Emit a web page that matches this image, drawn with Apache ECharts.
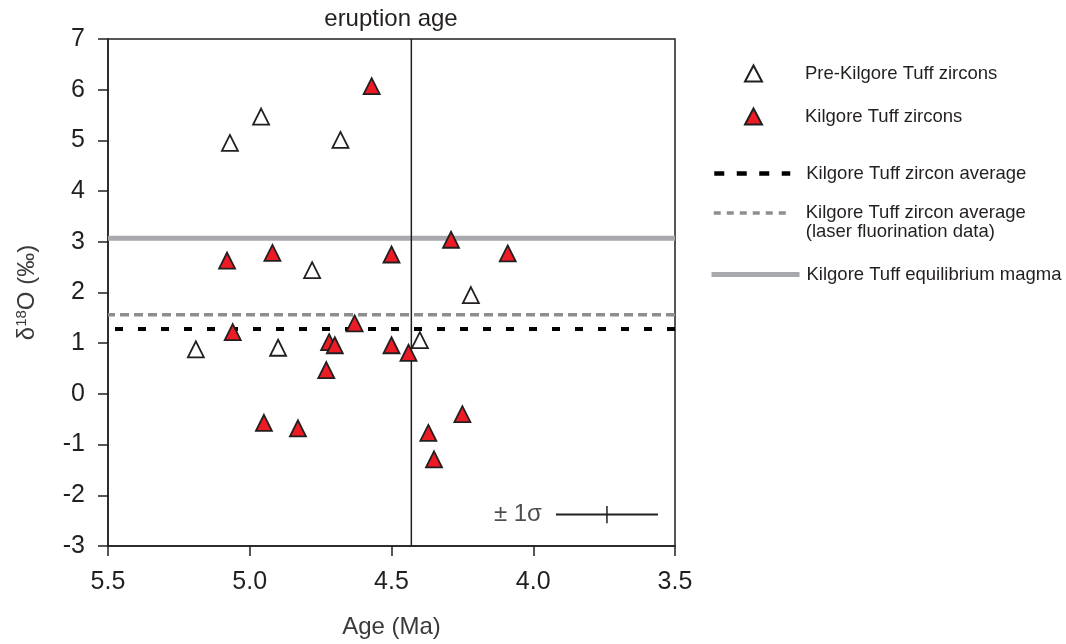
<!DOCTYPE html>
<html>
<head>
<meta charset="utf-8">
<script src="https://cdn.jsdelivr.net/npm/echarts@6/dist/echarts.min.js"></script>
<style>
  html, body { margin: 0; padding: 0; background: #fff; }
  #chart { width: 1066px; height: 644px; }
</style>
</head>
<body>
<div id="chart"></div>
<script>
// Zircon oxygen isotopes vs. age
const preAge   = [5.07, 4.96, 4.68, 4.78, 5.19, 4.90, 4.22, 4.40];
const preD18O  = [4.95, 5.47, 5.01, 2.44, 0.88, 0.91, 1.95, 1.06];

const kilAge   = [4.57, 5.08, 4.92, 4.50, 4.63, 5.06, 4.72, 4.70, 4.50, 4.73, 4.95, 4.83, 4.29, 4.09, 4.44, 4.25, 4.37, 4.35];
const kilD18O  = [6.07, 2.63, 2.78, 2.75, 1.39, 1.22, 1.02, 0.96, 0.96, 0.47, -0.57, -0.68, 3.04, 2.77, 0.81, -0.40, -0.77, -1.29];

// Reference levels (δ18O, ‰) and eruption age (Ma)
const zirconAvg = 1.28;
const laserAvg = 1.56;
const equilibriumMagma = 3.07;
const eruptionAge = 4.43;

// Typical 1σ uncertainty (age, δ18O)
const sigmaCenter = [3.74, -2.38];
const sigmaAge = 0.18;
const sigmaD18O = 0.17;

// Axis ranges and ticks
const ageRange = [3.5, 5.5];
const ageTicks = ['5.5', '5.0', '4.5', '4.0', '3.5'];
const d18ORange = [-3, 7];

const seriesNames = [
  'Pre-Kilgore Tuff zircons',
  'Kilgore Tuff zircons',
  'Kilgore Tuff zircon average',
  'Kilgore Tuff zircon average\n(laser fluorination data)',
  'Kilgore Tuff equilibrium magma'
];

const INK = '#231f20';
const FONT = '"Liberation Sans", Arial, Helvetica, sans-serif';

const pairs = (xs, ys) => xs.map((x, i) => [x, ys[i]]);
const hline = v => [[ageRange[0], v], [ageRange[1], v]];

const chart = echarts.init(document.getElementById('chart'), null, { renderer: 'canvas' });

const legendText = { fontFamily: FONT, fontSize: 18.5, color: INK, lineHeight: 19 };
function legendFor(name, left, top, itemWidth, textPad, extra) {
  return Object.assign({
    data: [name],
    orient: 'vertical',
    selectedMode: false,
    padding: 0,
    itemGap: 0,
    left: left,
    top: top,
    itemWidth: itemWidth,
    itemHeight: 16,
    textStyle: Object.assign({}, legendText, { padding: textPad })
  }, extra || {});
}

chart.setOption({
  animation: false,
  backgroundColor: '#fff',
  textStyle: { fontFamily: FONT },
  grid: {
    left: 108, right: 391, top: 39, bottom: 93,
    show: true, borderColor: INK, borderWidth: 1.5, backgroundColor: 'transparent'
  },
  graphic: [{
    type: 'text', x: 391, y: 19,
    style: {
      text: 'eruption age', fill: INK, font: '24px ' + FONT,
      textAlign: 'center', textVerticalAlign: 'middle'
    }
  }],
  legend: [
    legendFor(seriesNames[0], 744, 64, 17, [0, 0, 0, 38]),
    legendFor(seriesNames[1], 744, 107, 17, [0, 0, 0, 38]),
    legendFor(seriesNames[2], 712, 164, 76, [0, 0, 0, 11], {
      lineStyle: { type: [10, 12.5], width: 4.5, color: '#000' },
      itemStyle: { opacity: 0 }
    }),
    // two-line entry: a blank leading line keeps the first text line level with the icon
    legendFor(seriesNames[3], 712, 184.5, 76, [0, 0, 0, 11], {
      lineStyle: { type: [7, 6], width: 3.5, color: '#8e8e8e' },
      itemStyle: { opacity: 0 },
      formatter: name => '{e| }\n' + name.split('\n').map(s => '{t|' + s + '}').join('\n'),
      textStyle: Object.assign({}, legendText, {
        padding: [0, 0, 0, 11],
        rich: {
          e: { fontSize: 10, lineHeight: 19 },
          t: { fontFamily: FONT, fontSize: 18.5, color: INK, lineHeight: 19 }
        }
      })
    }),
    legendFor(seriesNames[4], 709, 265, 88, [0, 0, 0, 2], {
      lineStyle: { width: 5, color: '#a7a9ac' },
      itemStyle: { opacity: 0 }
    })
  ],
  xAxis: {
    type: 'value',
    inverse: true,
    min: ageRange[0], max: ageRange[1], interval: 0.5,
    name: 'Age (Ma)',
    nameLocation: 'middle',
    nameGap: 69,
    nameTextStyle: { fontFamily: FONT, fontSize: 24, color: '#3a3a3a' },
    axisLine: { show: true, onZero: false, lineStyle: { color: INK, width: 1.5 } },
    axisTick: { show: true, inside: false, length: 10, lineStyle: { color: INK, width: 1.5 } },
    axisLabel: {
      margin: 24, fontSize: 25, color: INK, fontFamily: FONT,
      formatter: v => ageTicks.find(t => Math.abs(parseFloat(t) - v) < 1e-6) || ''
    },
    splitLine: { show: false }
  },
  yAxis: {
    type: 'value',
    min: d18ORange[0], max: d18ORange[1], interval: 1,
    name: '{a|δ}{b|18}{a|O (‰)}',
    nameLocation: 'middle',
    nameRotate: 90,
    nameGap: 68,
    nameTextStyle: {
      fontFamily: FONT, color: '#3a3a3a',
      rich: {
        a: { fontSize: 24, fontFamily: FONT, color: '#3a3a3a', lineHeight: 26 },
        b: { fontSize: 15, fontFamily: FONT, color: '#3a3a3a', verticalAlign: 'top', lineHeight: 15 }
      }
    },
    axisLine: { show: true, onZero: false, lineStyle: { color: INK, width: 1.5 } },
    axisTick: { show: true, inside: false, length: 10, lineStyle: { color: INK, width: 1.5 } },
    axisLabel: { margin: 23, fontSize: 25, color: INK, fontFamily: FONT },
    splitLine: { show: false }
  },
  series: [
    {
      name: seriesNames[4], type: 'line', data: hline(equilibriumMagma),
      symbol: 'none', z: 1, silent: true,
      itemStyle: { color: '#a7a9ac' },
      lineStyle: { color: '#a7a9ac', width: 5 }
    },
    {
      name: seriesNames[3], type: 'line', data: hline(laserAvg),
      symbol: 'none', z: 1, silent: true,
      itemStyle: { color: '#8e8e8e' },
      lineStyle: { color: '#8e8e8e', width: 3.5, type: [9, 5] }
    },
    {
      name: seriesNames[2], type: 'line', data: hline(zirconAvg),
      symbol: 'none', z: 1, silent: true,
      itemStyle: { color: '#000' },
      lineStyle: { color: '#000', width: 4, type: [8, 15] }
    },
    {
      name: 'eruption age', type: 'line',
      data: [[eruptionAge, d18ORange[0]], [eruptionAge, d18ORange[1]]],
      symbol: 'none', z: 1, silent: true,
      lineStyle: { color: INK, width: 1.5 }
    },
    {
      name: 'sigma-age', type: 'line',
      data: [[sigmaCenter[0] + sigmaAge, sigmaCenter[1]], [sigmaCenter[0] - sigmaAge, sigmaCenter[1]]],
      symbol: 'none', z: 1, silent: true,
      lineStyle: { color: INK, width: 2 }
    },
    {
      name: 'sigma-d18O', type: 'line',
      data: [[sigmaCenter[0], sigmaCenter[1] - sigmaD18O], [sigmaCenter[0], sigmaCenter[1] + sigmaD18O]],
      symbol: 'none', z: 1, silent: true,
      lineStyle: { color: INK, width: 1.5 }
    },
    {
      name: 'sigma-label', type: 'scatter',
      data: [[sigmaCenter[0] + sigmaAge, sigmaCenter[1]]],
      symbolSize: 0, silent: true,
      label: {
        show: true, position: 'left', distance: 14,
        formatter: '± 1σ', fontSize: 24, color: INK, fontFamily: FONT
      }
    },
    {
      name: seriesNames[0], type: 'scatter', data: pairs(preAge, preD18O),
      symbol: 'triangle', symbolSize: 16, z: 5,
      itemStyle: { color: '#ffffff', borderColor: INK, borderWidth: 1.8, opacity: 1 }
    },
    {
      name: seriesNames[1], type: 'scatter', data: pairs(kilAge, kilD18O),
      symbol: 'triangle', symbolSize: 16, z: 5,
      itemStyle: { color: '#ed1c24', borderColor: INK, borderWidth: 1.8, opacity: 1 }
    }
  ]
});
</script>
</body>
</html>
